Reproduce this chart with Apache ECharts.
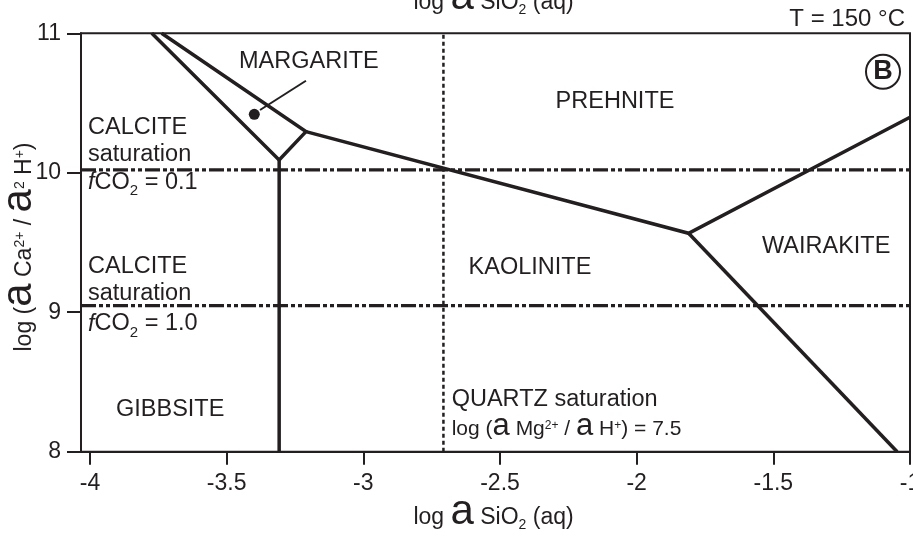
<!DOCTYPE html>
<html>
<head>
<meta charset="utf-8">
<script src="https://cdn.jsdelivr.net/npm/echarts@6/dist/echarts.min.js"></script>
<style>
  html, body { margin: 0; padding: 0; background: #ffffff; }
  #chart { width: 913px; height: 538px; }
</style>
</head>
<body>
<div id="chart"></div>
<script>
// Activity diagram, Ca–Al–Si–O–H system at 150 °C

// Axes
const xTicks = [-4, -3.5, -3, -2.5, -2, -1.5, -1];
const yTicks = [8, 9, 10, 11];
const xRange = [-4.033, -1];
const yRange = [8, 11];

// Phase boundaries: [log a SiO2(aq), log (a Ca2+ / a2 H+)]
const margariteField = [[-3.774, 11], [-3.308, 10.092], [-3.21, 10.295], [-3.738, 11]];
const gibbsiteKaolinite = [[-3.308, 10.092], [-3.308, 8]];
const prehniteKaoliniteWairakite = [[-3.21, 10.295], [-1.81, 9.566], [-1, 10.398]];
const kaoliniteWairakite = [[-1.81, 9.566], [-1.047, 8]];

// Reference lines
const calciteSaturation = [10.021, 9.047];   // fCO2 = 0.1 and fCO2 = 1.0
const quartzSaturation = -2.707;

// Margarite field marker and its leader
const margariteDot = [-3.399, 10.419];
const margariteLeader = [[-3.378, 10.45], [-3.21, 10.66]];

const INK = '#231f20';
const FONT = '"Liberation Sans", Arial, Helvetica, sans-serif';

function boundary(data, width, type, z) {
  return {
    type: 'line',
    data: data,
    symbol: 'none',
    silent: true,
    animation: false,
    z: z || 3,
    lineStyle: { color: INK, width: width, type: type || 'solid', cap: 'butt', join: 'miter', opacity: 1 }
  };
}

const series = [
  boundary(margariteField, 3.5),
  boundary(gibbsiteKaolinite, 3.5),
  boundary(prehniteKaoliniteWairakite, 3.5),
  boundary(kaoliniteWairakite, 3.5),
  boundary([[quartzSaturation, yRange[0]], [quartzSaturation, yRange[1]]], 2.5, [4, 3], 2),
  boundary(margariteLeader, 2),
  {
    type: 'scatter',
    data: [margariteDot],
    symbol: 'circle',
    symbolSize: 11,
    itemStyle: { color: INK, opacity: 1 },
    silent: true,
    animation: false,
    z: 4
  }
];
calciteSaturation.forEach(function (y) {
  series.push(boundary([[xRange[0], y], [xRange[1], y]], 3.3, [15, 3, 4, 3, 4, 3], 2));
});

// Rich text styles
function richSet(n, big, sub, padBig, supShift, subShift) {
  const base = { fontFamily: FONT, color: INK, verticalAlign: 'middle' };
  return {
    n: Object.assign({ fontSize: n }, base),
    it: Object.assign({ fontSize: n, fontStyle: 'italic' }, base),
    a: Object.assign({ fontSize: big, padding: [0, 0, padBig, 0] }, base),
    sup: Object.assign({ fontSize: sub, padding: [0, 0, supShift, 0] }, base),
    sub: Object.assign({ fontSize: sub, padding: [subShift, 0, 0, 0] }, base)
  };
}
const richAxis = richSet(23, 42, 14, 12, 9, 15);
const richSmall = richSet(21, 31, 12, 6, 8, 14);
const richLabel = richSet(23.5, 34, 15, 7, 9, 17);

function label(x, y, text, opts) {
  opts = opts || {};
  return {
    type: 'text',
    x: x,
    y: y,
    rotation: opts.rotation || 0,
    silent: true,
    z: 10,
    style: {
      text: text,
      rich: opts.rich,
      fill: INK,
      font: (opts.weight || 'normal') + ' ' + (opts.size || 23.5) + 'px ' + FONT,
      align: opts.align || 'left',
      verticalAlign: 'middle'
    }
  };
}

const xName = '{n|log }{a|a}{n| SiO}{sub|2}{n| (aq)}';
const yName = '{n|log (}{a|a}{n| Ca}{sup|2+}{n| / }{a|a}{sup|2}{n| H}{sup|+}{n|)}';

const graphics = [
  // axis titles
  label(493.5, 518, xName, { rich: richAxis, align: 'center' }),
  label(493.5, 3, xName, { rich: richAxis, align: 'center' }),
  label(25, 247, yName, { rich: richAxis, align: 'center', rotation: Math.PI / 2 }),
  // temperature and panel tag
  label(905, 19, 'T = 150 °C', { size: 24, align: 'right' }),
  {
    type: 'circle', silent: true, z: 10,
    shape: { cx: 883, cy: 71.7, r: 17 },
    style: { fill: '#ffffff', stroke: INK, lineWidth: 2 }
  },
  label(883, 72, 'B', { size: 27, weight: 'bold', align: 'center' }),
  // phase fields
  label(239, 62, 'MARGARITE'),
  label(615, 102, 'PREHNITE', { align: 'center' }),
  label(530, 268, 'KAOLINITE', { align: 'center' }),
  label(762, 247, 'WAIRAKITE'),
  label(116, 409.6, 'GIBBSITE'),
  // calcite saturation notes
  label(88, 128, 'CALCITE'),
  label(88, 154.6, 'saturation'),
  label(88, 182.5, '{it|f}{n|CO}{sub|2}{n| = 0.1}', { rich: richLabel }),
  label(88, 267, 'CALCITE'),
  label(88, 293.6, 'saturation'),
  label(88, 324, '{it|f}{n|CO}{sub|2}{n| = 1.0}', { rich: richLabel }),
  // quartz saturation note
  label(451.7, 399.6, 'QUARTZ saturation'),
  label(451.7, 429.5, '{n|log (}{a|a}{n| Mg}{sup|2+}{n| / }{a|a}{n| H}{sup|+}{n|) = 7.5}', { rich: richSmall })
];

const chart = echarts.init(document.getElementById('chart'), null, { renderer: 'canvas' });
chart.setOption({
  animation: false,
  backgroundColor: '#ffffff',
  grid: {
    left: 81, right: 3, top: 33.3, bottom: 86.3,
    containLabel: false,
    outerBoundsMode: 'none',
    show: true, borderColor: INK, borderWidth: 2, backgroundColor: 'transparent'
  },
  xAxis: {
    type: 'value',
    min: xRange[0],
    max: xRange[1],
    axisLine: { show: true, onZero: false, lineStyle: { color: INK, width: 2 } },
    axisTick: { show: true, length: 13, customValues: xTicks, lineStyle: { color: INK, width: 2 } },
    axisLabel: {
      show: true, customValues: xTicks, margin: 20,
      fontSize: 23, fontFamily: FONT, color: INK,
      formatter: function (v) { return String(v); }
    },
    splitLine: { show: false }
  },
  yAxis: {
    type: 'value',
    min: yRange[0],
    max: yRange[1],
    axisLine: { show: true, onZero: false, lineStyle: { color: INK, width: 2 } },
    axisTick: { show: true, length: 14, customValues: yTicks, lineStyle: { color: INK, width: 2 } },
    axisLabel: {
      show: true, customValues: yTicks, margin: 20,
      fontSize: 23, fontFamily: FONT, color: INK
    },
    splitLine: { show: false }
  },
  series: series,
  graphic: graphics
});
</script>
</body>
</html>
